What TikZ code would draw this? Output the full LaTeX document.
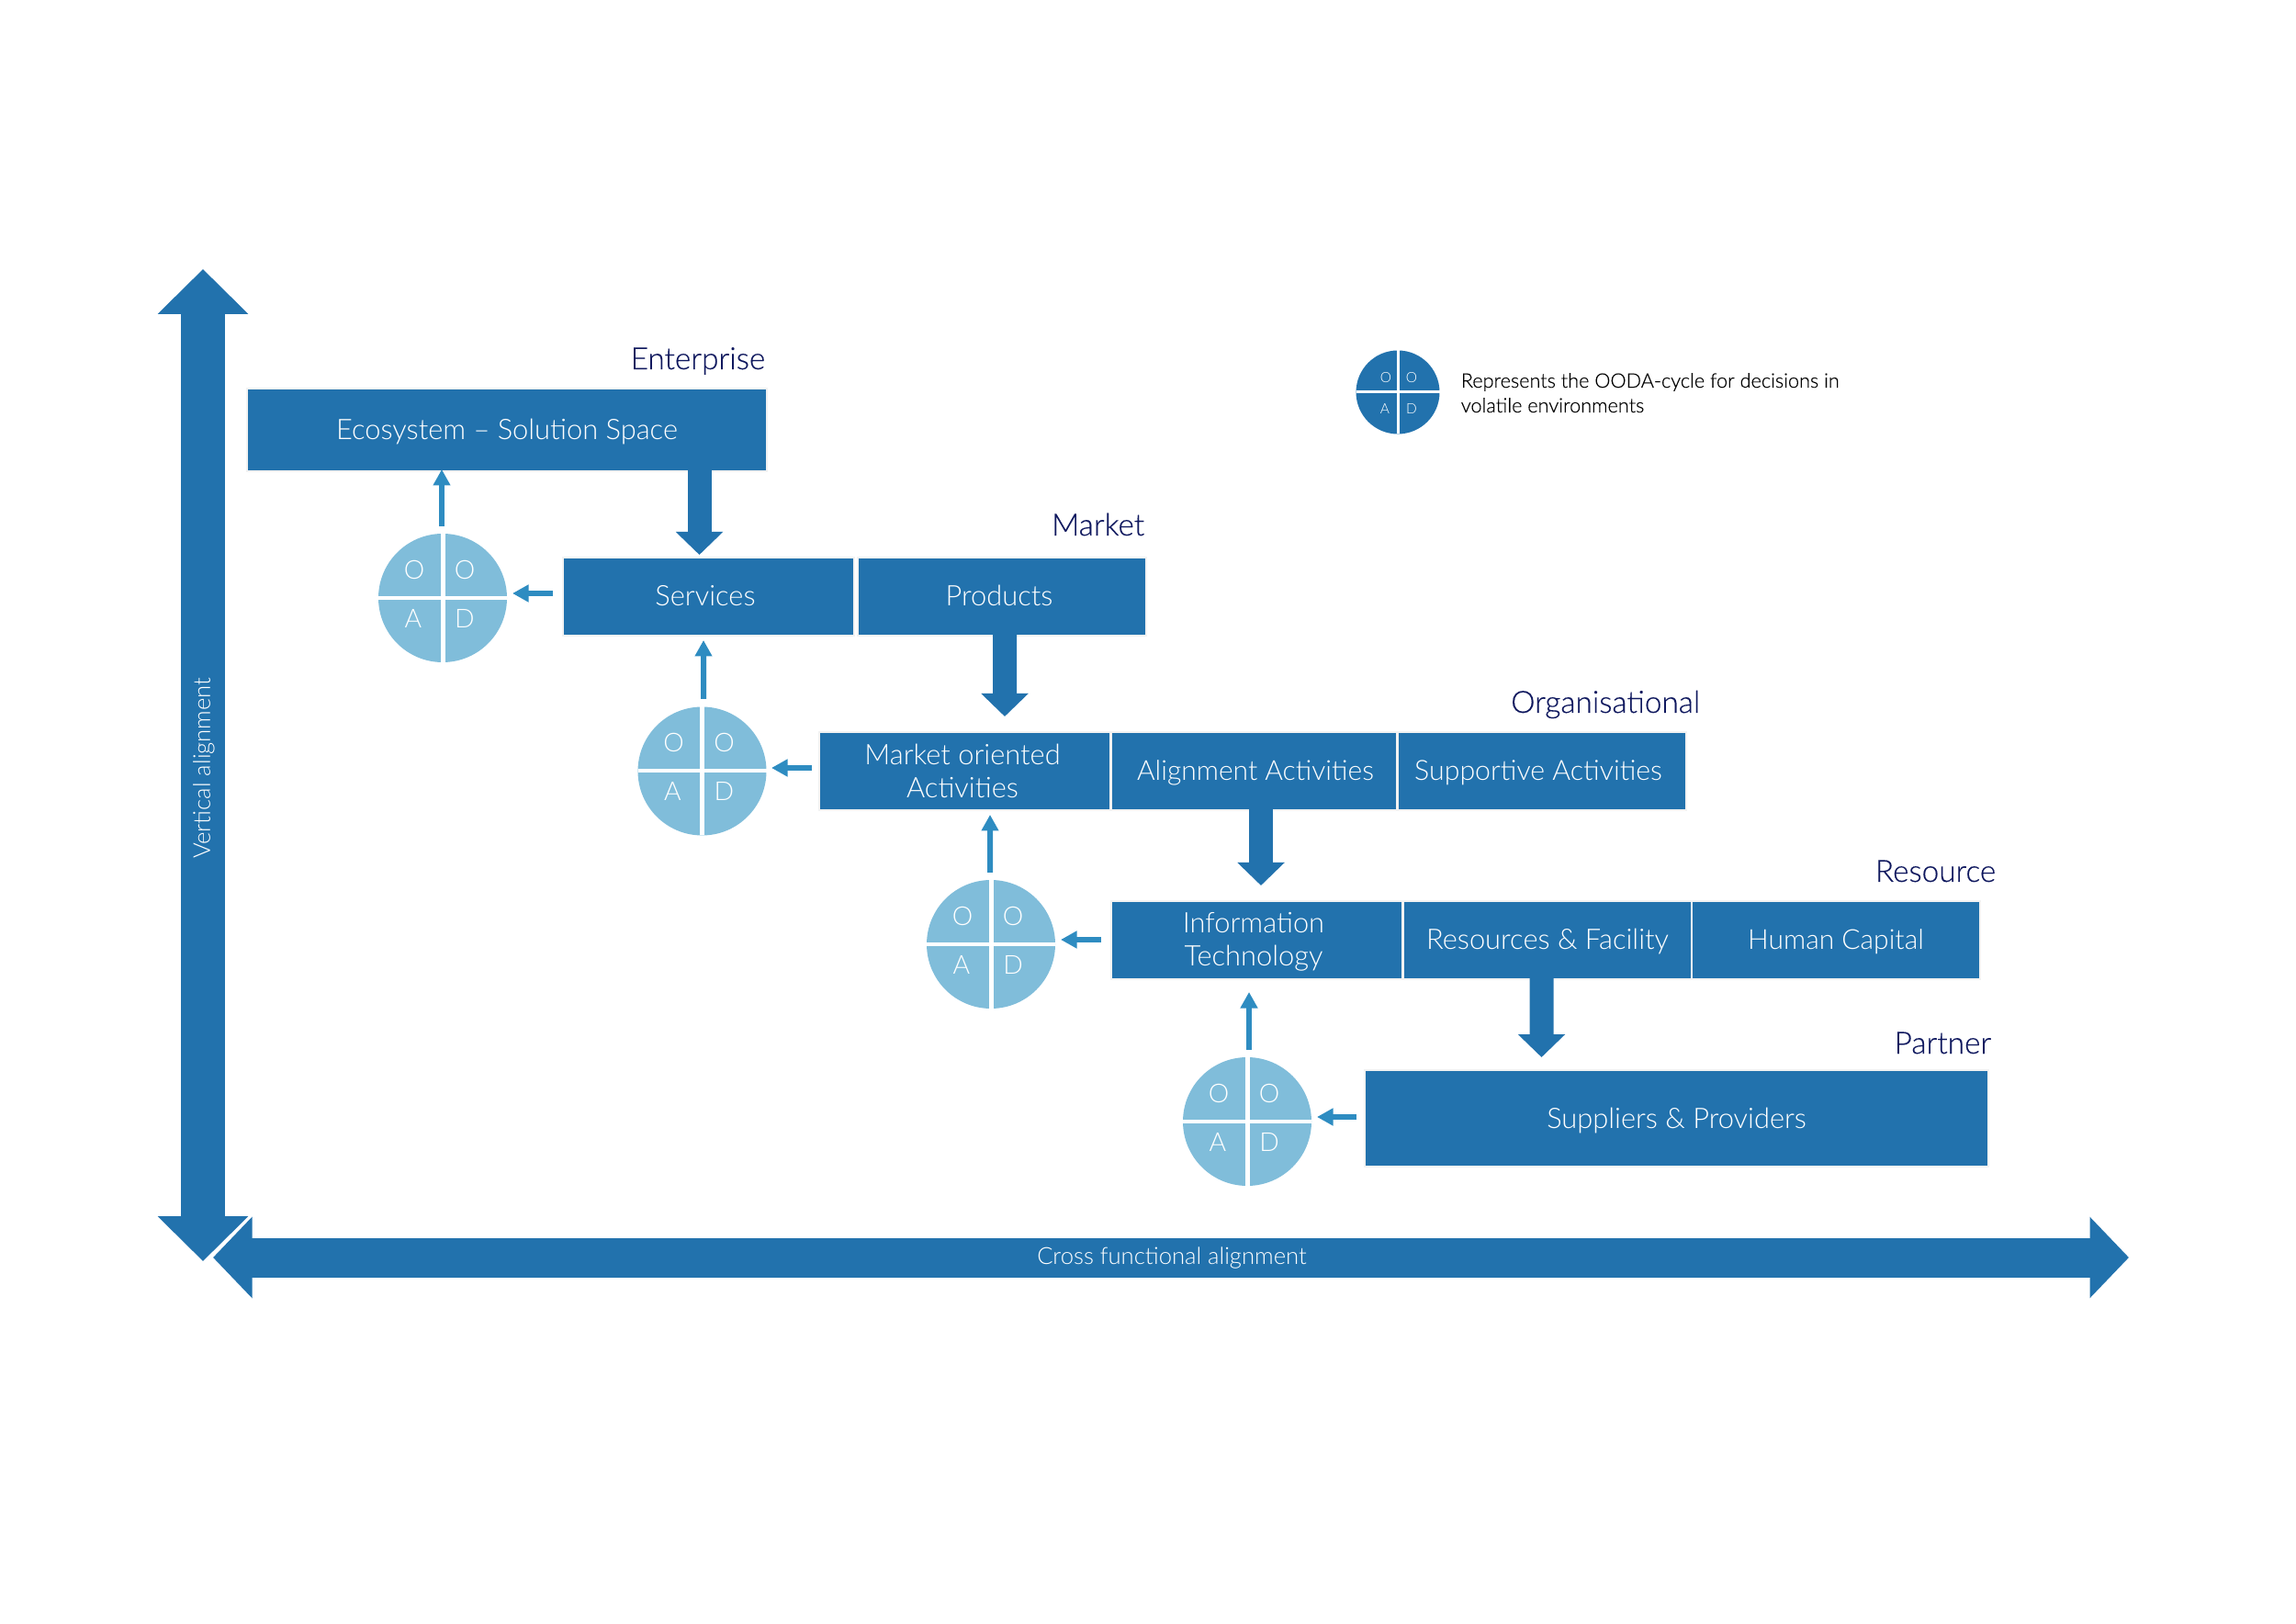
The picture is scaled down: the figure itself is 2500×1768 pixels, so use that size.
\documentclass[tikz,border=0pt]{standalone}
\usepackage{fontspec}
\setmainfont{Lato Light}
\newfontfamily\darkfont[FakeBold=0.25]{Lato Light}
\usetikzlibrary{arrows.meta,positioning,calc}
\newdimen\px \px=0.24pt
\definecolor{boxblue}{HTML}{2272AD}
\definecolor{arrowblue}{HTML}{2E8CC1}
\definecolor{lightblue}{HTML}{80BDDA}
\definecolor{navy}{HTML}{0F185E}
\tikzset{
  bluebox/.style={rectangle,fill=boxblue,draw=black!5,line width=2\px,outer sep=0pt,inner sep=0pt,text=white,align=center,font=\fontsize{7.4pt}{8.65pt}\selectfont},
  level/.style={anchor=base east,inner sep=0pt,text=navy,font=\darkfont\fontsize{8pt}{9.6pt}\selectfont},
  axislabel/.style={inner sep=0pt,text=white,font=\fontsize{6.15pt}{7.4pt}\selectfont},
  axisv/.style={draw=boxblue,line width=48\px,{Triangle[length=11.76pt,width=23.04pt]}-{Triangle[length=11.76pt,width=23.04pt]}},
  axish/.style={draw=boxblue,line width=43\px,{Triangle[length=10.2pt,width=20.64pt]}-{Triangle[length=10.2pt,width=20.64pt]}},
  fatarrow/.style={draw=boxblue,line width=26\px,-{Triangle[length=6pt,width=12pt]}},
  thinarrow/.style={draw=arrowblue,line width=6\px,-{Triangle[length=4.2pt,width=4.32pt]}},
  oodabig/.style={circle,fill=lightblue,inner sep=0pt,outer sep=0pt,minimum size=140\px},
  oodasmall/.style={circle,fill=boxblue,inner sep=0pt,outer sep=0pt,minimum size=91\px},
  letterbig/.style={inner sep=0pt,text=white,font=\fontsize{6.8pt}{8pt}\selectfont},
  lettersmall/.style={inner sep=0pt,text=white,font=\fontsize{3.7pt}{4.5pt}\selectfont},
  legendtext/.style={anchor=base west,inner sep=0pt,text=black,font=\darkfont\fontsize{5.2pt}{6.2pt}\selectfont},
}
\newcommand{\oodacircle}[3]{%
  \node[oodabig] (#1) at (#2,#3) {};
  \draw[white,line width=5\px] (#1.north) -- (#1.south);
  \draw[white,line width=4\px] (#1.west) -- (#1.east);
  \node[letterbig] (#1oa) at ([shift={(-31,-31)}]#1.center) {O};
  \node[letterbig] (#1ob) at ([shift={(24,-31)}]#1.center) {O};
  \node[letterbig] (#1a) at ([shift={(-32,22)}]#1.center) {A};
  \node[letterbig] (#1d) at ([shift={(24,22)}]#1.center) {D};
}
\newcommand{\lsh}[1]{\hspace*{#1}}
\newcommand{\nudge}[2]{\raisebox{#1}[\height][\depth]{#2}}
\begin{document}
\begin{tikzpicture}[x=0.24pt,y=-0.24pt]
\useasboundingbox (0,0) rectangle (2500,1768);
% axes
\coordinate (vtop) at (221,293);
\coordinate (vbot) at (221,1373);
\coordinate (hleft) at (232,1369);
\coordinate (hright) at (2318,1369);
\draw[axisv] (vtop) -- (vbot);
\draw[axish] (hleft) -- (hright);
\node[axislabel,rotate=90] (vlabel) at (222,836) {Vertical alignment};
\node[axislabel] (hlabel) at (1276,1370) {Cross functional alignment};
% boxes
\node[bluebox,minimum width=566\px,minimum height=90\px] (eco) at (552,468) {\nudge{-0.4pt}{Ecosystem – Solution Space}};
\node[bluebox,minimum width=317\px,minimum height=85\px] (services) at (771.5,649.5) {\nudge{0.2pt}{Services}\lsh{1.7pt}};
\node[bluebox,minimum width=314\px,minimum height=85\px] (products) at (1091,649.5) {\nudge{0.2pt}{Products}\lsh{1.4pt}};
\node[bluebox,minimum width=317\px,minimum height=85\px] (market) at (1050.5,839.5) {Market oriented\lsh{1.2pt}\\Activities\lsh{1.2pt}};
\node[bluebox,minimum width=311\px,minimum height=85\px,font=\fontsize{7.2pt}{8.65pt}\selectfont] (align) at (1365.5,839.5) {\lsh{0.7pt}\nudge{-0.35pt}{Alignment Activities}};
\node[bluebox,minimum width=314\px,minimum height=85\px,font=\fontsize{7.27pt}{8.65pt}\selectfont] (support) at (1679,839.5) {\nudge{-0.35pt}{Supportive Activities}\lsh{1.9pt}};
\node[bluebox,minimum width=317\px,minimum height=85\px] (info) at (1368.5,1023.5) {\nudge{-0.35pt}{Information}\lsh{1.7pt}\\\nudge{-0.35pt}{Technology}\lsh{1.7pt}};
\node[bluebox,minimum width=314\px,minimum height=85\px] (res) at (1685,1023.5) {\nudge{-0.35pt}{Resources \& Facility}};
\node[bluebox,minimum width=314\px,minimum height=85\px,font=\fontsize{7.2pt}{8.65pt}\selectfont] (human) at (1999,1023.5) {\nudge{-0.35pt}{Human Capital}};
\node[bluebox,minimum width=679\px,minimum height=105\px] (suppliers) at (1825.5,1217.5) {\nudge{-0.7pt}{Suppliers \& Providers}};
% level titles
\node[level] (tenterprise) at (834,402) {Enterprise};
\node[level] (tmarket) at (1247,583) {Market};
\node[level] (torg) at (1852,776) {Organisational};
\node[level] (tres) at (2174,960) {Resource};
\node[level] (tpartner) at (2169,1147) {Partner};
% OODA circles
\oodacircle{ca}{482}{651}
\oodacircle{cb}{764.5}{839.5}
\oodacircle{cc}{1079}{1028}
\oodacircle{cd}{1358}{1221}
% fat arrows
\draw[fatarrow] ([shift={(209.5,-1)}]eco.south) -- ([shift={(-10,-3)}]services.north);
\draw[fatarrow] ([shift={(3,-1)}]products.south) -- ([shift={(43.5,-17)}]market.north);
\draw[fatarrow] ([shift={(7.5,-1)}]align.south) -- ([shift={(4.5,-17)}]info.north);
\draw[fatarrow] ([shift={(-6.5,-1)}]res.south) -- ([shift={(-147,-14)}]suppliers.north);
% thin up arrows
\draw[thinarrow] ([shift={(-1,-8)}]ca.north) -- ([shift={(-71,-2)}]eco.south);
\draw[thinarrow] ([shift={(1.5,-8.5)}]cb.north) -- ([shift={(-5.5,5)}]services.south);
\draw[thinarrow] ([shift={(-1,-8)}]cc.north) -- ([shift={(27.5,5)}]market.south);
\draw[thinarrow] ([shift={(2,-8)}]cd.north) -- ([shift={(-8.5,14)}]info.south);
% thin left arrows
\draw[thinarrow] ([shift={(-11,-3.5)}]services.west) -- ([shift={(6,-5)}]ca.east);
\draw[thinarrow] ([shift={(-8,-3.5)}]market.west) -- ([shift={(5.5,-3.5)}]cb.east);
\draw[thinarrow] ([shift={(-11,-0.5)}]info.west) -- ([shift={(6,-5)}]cc.east);
\draw[thinarrow] ([shift={(-9,-1.5)}]suppliers.west) -- ([shift={(6,-5)}]cd.east);
% legend
\node[oodasmall] (lg) at (1522,427) {};
\draw[white,line width=3\px] (lg.north) -- (lg.south) (lg.west) -- (lg.east);
\node[lettersmall] (lgoa) at ([shift={(-13,-16)}]lg.center) {O};
\node[lettersmall] (lgob) at ([shift={(15,-16)}]lg.center) {O};
\node[lettersmall] (lga) at ([shift={(-14,18)}]lg.center) {A};
\node[lettersmall] (lgd) at ([shift={(15,18)}]lg.center) {D};
\node[legendtext] (lt1) at (1590,422) {Represents the OODA-cycle for decisions in};
\node[legendtext] (lt2) at (1590,449) {volatile environments};
\end{tikzpicture}
\end{document}
